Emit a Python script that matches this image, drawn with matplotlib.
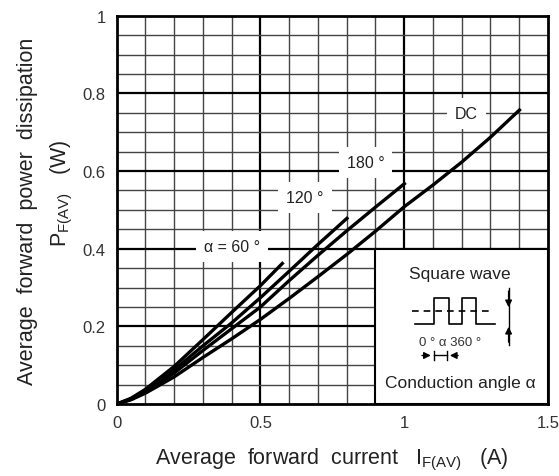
import numpy as np
import matplotlib
matplotlib.use("Agg")
import matplotlib.pyplot as plt
from matplotlib.patches import Rectangle

plt.rcParams["font.family"] = ["Liberation Sans", "DejaVu Sans"]

# curves: average current (A) -> power (W)
i_60 = [0, 0.05, 0.1, 0.2, 0.3, 0.4, 0.5, 0.58]
p_60 = [0, 0.015, 0.038, 0.097, 0.166, 0.236, 0.305, 0.365]
i_120 = [0, 0.05, 0.1, 0.2, 0.3, 0.4, 0.5, 0.6, 0.7, 0.805]
p_120 = [0, 0.013, 0.034, 0.088, 0.150, 0.209, 0.274, 0.342, 0.411, 0.481]
i_180 = [0, 0.05, 0.1, 0.2, 0.3, 0.4, 0.5, 0.6, 0.7, 0.8, 0.9, 1.005]
p_180 = [0, 0.012, 0.031, 0.080, 0.138, 0.194, 0.250, 0.318, 0.383, 0.446, 0.507, 0.570]
i_dc = [0, 0.05, 0.1, 0.2, 0.3, 0.4, 0.5, 0.6, 0.7, 0.8, 0.9, 1.0, 1.1, 1.2, 1.3, 1.405]
p_dc = [0, 0.011, 0.028, 0.070, 0.120, 0.168, 0.218, 0.272, 0.328, 0.385, 0.445, 0.508, 0.564, 0.623, 0.687, 0.760]

curves = [(i_60, p_60), (i_120, p_120), (i_180, p_180), (i_dc, p_dc)]
curve_labels = ["α = 60 °", "120 °", "180 °", "DC"]
label_pos = [(0.40, 0.405), (0.655, 0.533), (0.865, 0.623), (1.215, 0.748)]

x_ticks = [0, 0.5, 1, 1.5]
x_tick_labels = ["0", "0.5", "1", "1.5"]
y_ticks = [0, 0.2, 0.4, 0.6, 0.8, 1]
y_tick_labels = ["0", "0.2", "0.4", "0.6", "0.8", "1"]

fig = plt.figure(figsize=(5.59, 4.77), dpi=100)
ax = fig.add_axes([0.2088, 0.1509, 0.7715, 0.8141])
ax.set_xlim(0, 1.5)
ax.set_ylim(0, 1)

# grid: thin lines every 0.1 / 0.05, heavy lines at the labelled values
for x in np.arange(0.1, 1.5, 0.1):
    major = abs(x - round(x * 2) / 2) < 1e-6
    ax.axvline(x, color="black" if major else "#444444", lw=1.6 if major else 1.0, zorder=1)
for y in np.arange(0.05, 1.0, 0.05):
    major = abs(y * 5 - round(y * 5)) < 1e-6
    ax.axhline(y, color="black" if major else "#444444", lw=1.6 if major else 1.0, zorder=1)

for xs, ys in curves:
    ax.plot(xs, ys, color="black", lw=2.4, solid_capstyle="butt", zorder=4)

for txt, (x, y) in zip(curve_labels, label_pos):
    ax.text(x, y, txt, ha="center", va="center", fontsize=11.5, color="#222222", zorder=5,
            bbox=dict(boxstyle="square,pad=0.5", fc="white", ec="none"))

# inset with the waveform sketch
ax.add_patch(Rectangle((0.9, 0), 0.6, 0.4, fc="white", ec="black", lw=1.5, zorder=3))
ax.text(1.195, 0.337, "Square wave", ha="center", va="center", fontsize=12.5, color="#222222", zorder=5)
ax.text(1.195, 0.056, "Conduction angle α", ha="center", va="center", fontsize=12.5, color="#222222", zorder=5)
ax.text(1.16, 0.159, "0 ° α 360 °", ha="center", va="center", fontsize=9.5, color="#333333", zorder=5)

wave_x = [1.038, 1.102, 1.102, 1.154, 1.154, 1.201, 1.201, 1.251, 1.251, 1.317]
wave_y = [0.206, 0.206, 0.272, 0.272, 0.206, 0.206, 0.272, 0.272, 0.206, 0.206]
ax.plot(wave_x, wave_y, color="black", lw=1.2, zorder=5)
ax.plot([1.027, 1.30], [0.240, 0.240], color="black", lw=1.2, dashes=(4, 3), zorder=5)

arrow = dict(arrowstyle="-|>", color="black", lw=1.0, mutation_scale=10)
ax.plot([1.363, 1.363], [0.152, 0.298], color="black", lw=1.0, zorder=5)
ax.annotate("", xy=(1.363, 0.242), xytext=(1.363, 0.298), arrowprops=arrow, zorder=5)
ax.annotate("", xy=(1.363, 0.206), xytext=(1.363, 0.152), arrowprops=arrow, zorder=5)
ax.annotate("", xy=(1.102, 0.125), xytext=(1.052, 0.125), arrowprops=arrow, zorder=5)
ax.annotate("", xy=(1.149, 0.125), xytext=(1.197, 0.125), arrowprops=arrow, zorder=5)
ax.plot([1.102, 1.102], [0.113, 0.137], color="black", lw=1.0, zorder=5)
ax.plot([1.149, 1.149], [0.113, 0.137], color="black", lw=1.0, zorder=5)
ax.plot([1.102, 1.149], [0.125, 0.125], color="black", lw=1.0, zorder=5)

ax.set_xticks(x_ticks)
ax.set_xticklabels(x_tick_labels)
ax.set_yticks(y_ticks)
ax.set_yticklabels(y_tick_labels)
ax.tick_params(length=0, labelsize=12, labelcolor="#333333", pad=8)
for s in ax.spines.values():
    s.set_linewidth(2)
    s.set_zorder(6)

fig.text(0.594, 0.036, r"Average  forward  current   I$_{\mathregular{F(AV)}}$   (A)",
         ha="center", va="center", fontsize=15.5, color="#222222")
fig.text(0.050, 0.556, "Average  forward  power  dissipation", rotation=90,
         ha="center", va="center", fontsize=15.5, color="#222222")
fig.text(0.110, 0.595, r"P$_{\mathregular{F(AV)}}$   (W)", rotation=90,
         ha="center", va="center", fontsize=15.5, color="#222222")

fig.savefig("out.png", dpi=100)
